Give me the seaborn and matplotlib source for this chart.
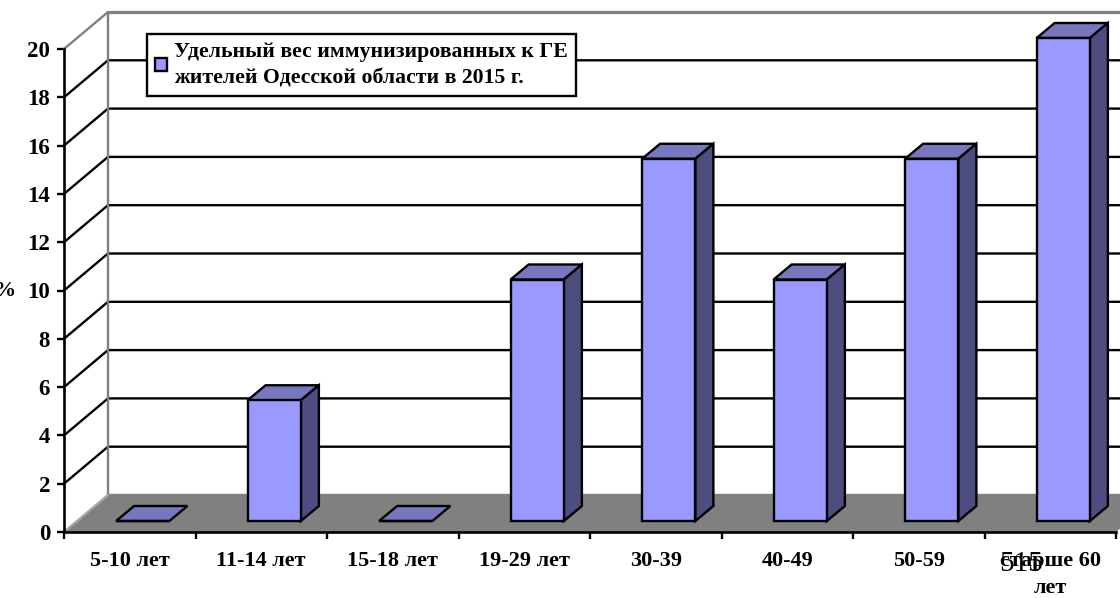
import matplotlib
matplotlib.use("Agg")
import matplotlib.pyplot as plt
from matplotlib.patches import Polygon
import pandas as pd
import seaborn as sns

categories = ["5-10 лет", "11-14 лет", "15-18 лет", "19-29 лет", "30-39", "40-49", "50-59", "старше 60\nлет"]
shares = [0, 5, 0, 10, 15, 10, 15, 20]
y_ticks = list(range(0, 21, 2))
legend_label = "Удельный вес иммунизированных к ГЕ\nжителей Одесской области в 2015 г."

FRONT = "#9999FF"
TOP = "#7777C0"
SIDE = "#4D4D80"
FLOOR = "#808080"
LW = 1.7

# Size of the pseudo-3D offsets, in data units of each axis
X_UNIT, Y_UNIT = 131.5, 24.15
WALL_DX, WALL_DY = 44 / X_UNIT, 37 / Y_UNIT
BAR_DX, BAR_DY = 13 / X_UNIT, 11 / Y_UNIT
DEPTH_DX, DEPTH_DY = 18 / X_UNIT, 15 / Y_UNIT

sns.set_theme(style="white")
plt.rcParams["font.family"] = ["Liberation Serif", "DejaVu Serif"]
plt.rcParams["font.weight"] = "bold"

fig = plt.figure(figsize=(11.2, 5.98), dpi=100, facecolor="white")
ax = fig.add_axes([64 / 1120, (598 - 532) / 598, 1052 / 1120, 483 / 598])
ax.patch.set_visible(False)

df = pd.DataFrame({"group": categories, "share": shares})
sns.barplot(data=df, x="group", y="share", width=0.405, color=FRONT, saturation=1,
            edgecolor="black", linewidth=LW, ax=ax, zorder=5, legend=False,
            label=legend_label, errorbar=None)

x_min, x_max = -0.5, 7.5
ax.set_xlim(x_min, x_max)
ax.set_ylim(0, 20)

# Floor plane and back wall
x_far = x_max + WALL_DX
ax.add_patch(Polygon([(x_min, 0), (x_min + WALL_DX, WALL_DY), (x_far, WALL_DY), (x_max, 0)],
                     closed=True, facecolor=FLOOR, edgecolor="none", clip_on=False, zorder=1))
for v in y_ticks[1:-1]:
    ax.plot([x_min, x_min + WALL_DX, x_far], [v, v + WALL_DY, v + WALL_DY],
            color="black", lw=LW, clip_on=False, zorder=2, solid_joinstyle="miter")
ax.plot([x_min, x_min + WALL_DX, x_min + WALL_DX, x_far],
        [20, 20 + WALL_DY, WALL_DY, WALL_DY],
        color=FLOOR, lw=LW, clip_on=False, zorder=2)
ax.plot([x_min + WALL_DX, x_far], [20 + WALL_DY, 20 + WALL_DY], color=FLOOR, lw=LW + 0.6,
        clip_on=False, zorder=2)
ax.plot([x_min, x_min + WALL_DX], [0, WALL_DY], color="#A6A6A6", lw=LW, clip_on=False, zorder=2)

# Shift each bar onto the floor and give it a top and a side face
for bar in ax.patches:
    if not hasattr(bar, "get_width"):
        continue
    bar.set_x(bar.get_x() + BAR_DX)
    bar.set_y(BAR_DY)
    bar.set_clip_on(False)
    x0, x1 = bar.get_x(), bar.get_x() + bar.get_width()
    y0, y1 = BAR_DY, BAR_DY + bar.get_height()
    ax.add_patch(Polygon([(x0, y1), (x1, y1), (x1 + DEPTH_DX, y1 + DEPTH_DY), (x0 + DEPTH_DX, y1 + DEPTH_DY)],
                         closed=True, facecolor=TOP, edgecolor="black", lw=LW,
                         clip_on=False, zorder=4))
    if y1 > y0:
        ax.add_patch(Polygon([(x1, y0), (x1 + DEPTH_DX, y0 + DEPTH_DY), (x1 + DEPTH_DX, y1 + DEPTH_DY), (x1, y1)],
                             closed=True, facecolor=SIDE, edgecolor="black", lw=LW,
                             clip_on=False, zorder=4))

# Axes lines, ticks and labels
sns.despine(ax=ax, top=True, right=True)
for side in ("left", "bottom"):
    ax.spines[side].set_color("black")
    ax.spines[side].set_linewidth(LW + 0.2)
    ax.spines[side].set_zorder(6)
ax.set_yticks(y_ticks)
ax.set_xticks([i - 0.5 for i in range(9)], minor=True)
ax.set_xticks(range(len(categories)))
ax.set_xticklabels(categories, fontsize=16, fontweight="bold", color="black", linespacing=1.45)
ax.tick_params(axis="x", which="major", length=0, pad=14)
ax.tick_params(axis="x", which="minor", length=5, width=LW, color="black", bottom=True)
ax.tick_params(axis="y", length=5, width=LW, color="black", left=True, pad=5, labelsize=16.5, labelcolor="black")
ax.set_xlabel("")
ax.set_ylabel("")

fig.text(5 / 1120, 1 - 291 / 598, "%", fontsize=16, fontweight="bold", ha="center", va="center", color="black")
fig.text(1021 / 1120, 1 - 564 / 598, "515", fontsize=21, fontweight="normal", ha="center", va="center", color="black")

# Legend box
leg = ax.legend(loc="upper left", bbox_to_anchor=(147 / 1120, 1 - 34 / 598),
                bbox_transform=fig.transFigure, fancybox=False, framealpha=1, facecolor="white",
                edgecolor="black", borderaxespad=0, borderpad=0.36, handlelength=0.56,
                handleheight=0.56, handletextpad=0.33,
                prop={"family": "Liberation Serif", "weight": "bold", "size": 15.65}, labelspacing=0)
leg.get_frame().set_linewidth(LW)
leg.set_zorder(10)
leg.get_texts()[0].set_color("black")
leg.get_texts()[0].set_linespacing(1.42)

fig.savefig("out.png", dpi=100)
